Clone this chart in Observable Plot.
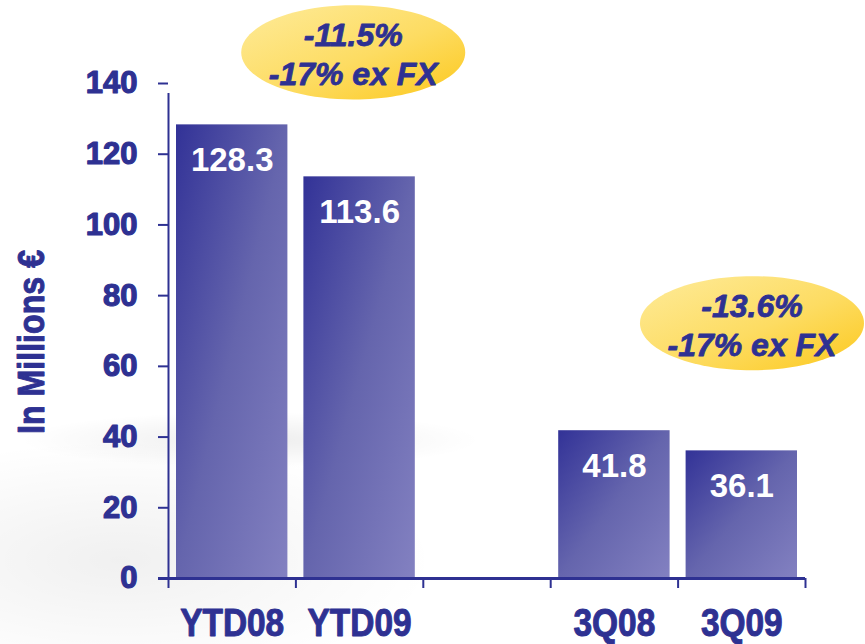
<!DOCTYPE html>
<html>
<head>
<meta charset="utf-8">
<script src="https://cdn.jsdelivr.net/npm/d3@7"></script>
<script src="https://cdn.jsdelivr.net/npm/@observablehq/plot@0.6"></script>
<style>
  html, body { margin: 0; padding: 0; background: #ffffff; }
  #wrap { position: relative; width: 865px; height: 644px; overflow: hidden;
    background:
      radial-gradient(ellipse 330px 40px at 250px 440px, rgba(0,0,0,0.07), rgba(0,0,0,0) 70%),
      radial-gradient(ellipse 420px 160px at 120px 560px, rgba(0,0,0,0.06), rgba(0,0,0,0) 75%),
      #ffffff; }
  #chart { position: absolute; left: 0; top: 0; }
</style>
</head>
<body>
<svg width="0" height="0" style="position:absolute">
  <defs>
    <linearGradient id="barGrad" x1="0" y1="0" x2="1" y2="1">
      <stop offset="0" stop-color="#323297"/>
      <stop offset="0.5" stop-color="#6565ad"/>
      <stop offset="1" stop-color="#8381c1"/>
    </linearGradient>
    <linearGradient id="ovalGrad" x1="0" y1="0" x2="1" y2="1">
      <stop offset="0" stop-color="#feeb9a"/>
      <stop offset="0.55" stop-color="#fddc62"/>
      <stop offset="1" stop-color="#fcc81c"/>
    </linearGradient>
  </defs>
</svg>
<div id="wrap"><div id="chart"></div></div>
<script>
// ---- data ----
const categories = ["YTD08", "YTD09", "", "3Q08", "3Q09"];
const values = [128.3, 113.6, null, 41.8, 36.1];
const yTicks = [0, 20, 40, 60, 80, 100, 120, 140];
const yLabel = "In Millions €";
const annotations = ["-11.5%\n-17% ex FX", "-13.6%\n-17% ex FX"];

const ink = "#2e3192";
const bars = categories.map((c, i) => ({ cat: c, i, v: values[i] })).filter(d => d.v != null);

// horizontally condense text glyphs (the reference uses a narrow bold face)
const condense = s => (index, scales, values, dims, ctx, next) => {
  const g = next(index, scales, values, dims, ctx);
  if (g) for (const t of g.querySelectorAll("text")) {
    const x = +t.getAttribute("x") || 0, y = +t.getAttribute("y") || 0;
    const tr = t.getAttribute("transform") || "";
    t.setAttribute("transform", `${tr} translate(${x},${y}) scale(${s},1) translate(${-x},${-y})`);
  }
  return g;
};

// ellipse symbol drawn with bezier curves (rx = r, ry = 0.42 r)
const ellipseSymbol = {
  draw(ctx, size) {
    const rx = Math.sqrt(size / Math.PI), ry = rx * 0.42, k = 0.5523;
    ctx.moveTo(rx, 0);
    ctx.bezierCurveTo(rx, ry * k, rx * k, ry, 0, ry);
    ctx.bezierCurveTo(-rx * k, ry, -rx, ry * k, -rx, 0);
    ctx.bezierCurveTo(-rx, -ry * k, -rx * k, -ry, 0, -ry);
    ctx.bezierCurveTo(rx * k, -ry, rx, -ry * k, rx, 0);
    ctx.closePath();
  }
};

const annData = [
  { text: annotations[0], x: 1.45, y: 148.8 },
  { text: annotations[1], x: 4.58, y: 72.2 }
];

const plot = Plot.plot({
  width: 865,
  height: 644,
  marginLeft: 168,
  marginRight: 60,
  marginTop: 83,
  marginBottom: 66,
  style: { background: "transparent", fontFamily: "Liberation Sans, Arial, sans-serif", overflow: "visible" },
  x: { type: "linear", domain: [0, categories.length], axis: null },
  y: { domain: [0, 140], axis: null },
  marks: [
    Plot.rectY(bars, { x1: d => d.i, x2: d => d.i + 1, y: "v", insetLeft: 8, insetRight: 8, fill: "url(#barGrad)" }),
    // y axis
    Plot.axisY(yTicks, { tickSize: 10, stroke: ink, strokeWidth: 2, tickFormat: () => "", label: null }),
    Plot.text(yTicks, { x: 0, y: d => d, dx: -31, text: d => String(d), textAnchor: "end", fill: ink,
      stroke: ink, strokeWidth: 1.2, fontSize: 31, fontWeight: "bold", lineAnchor: "middle" }),
    Plot.ruleX([0], { y1: 0, y2: 140, stroke: ink, strokeWidth: 2, insetBottom: -10 }),
    // x axis line and boundary ticks
    Plot.axisX(d3.range(categories.length + 1), { tickSize: 10, stroke: ink, strokeWidth: 2, tickFormat: () => "", label: null }),
    Plot.ruleY([0], { x1: 0, x2: categories.length, stroke: ink, strokeWidth: 3, insetLeft: -10 }),
    // category labels
    Plot.text(categories, { x: (d, i) => i + 0.5, y: 0, dy: 45, text: d => d, fill: ink,
      stroke: ink, strokeWidth: 1, fontSize: 38, fontWeight: "bold", lineAnchor: "middle",
      render: condense(0.88) }),
    // value labels
    Plot.text(bars, { x: d => d.i + 0.5, y: "v", dy: 36, text: d => d.v.toFixed(1), fill: "white",
      fontSize: 33, fontWeight: "bold", lineAnchor: "middle" }),
    // y label
    Plot.text([yLabel], { frameAnchor: "left", dx: -136, dy: 11, rotate: -90, text: d => d,
      textAnchor: "middle", fill: ink, stroke: ink, strokeWidth: 1, fontSize: 37, fontWeight: "bold",
      lineAnchor: "middle", render: condense(0.87) }),
    // annotations
    Plot.dot(annData, { x: "x", y: "y", r: 112, symbol: ellipseSymbol, fill: "url(#ovalGrad)", stroke: "none" }),
    Plot.text(annData, { x: "x", y: "y", text: "text", fill: ink, stroke: ink, strokeWidth: 0.8,
      fontSize: 32, fontWeight: "bold", fontStyle: "italic", lineHeight: 1.22, lineAnchor: "middle", dy: 1 })
  ]
});

document.getElementById("chart").appendChild(plot);
</script>
</body>
</html>
